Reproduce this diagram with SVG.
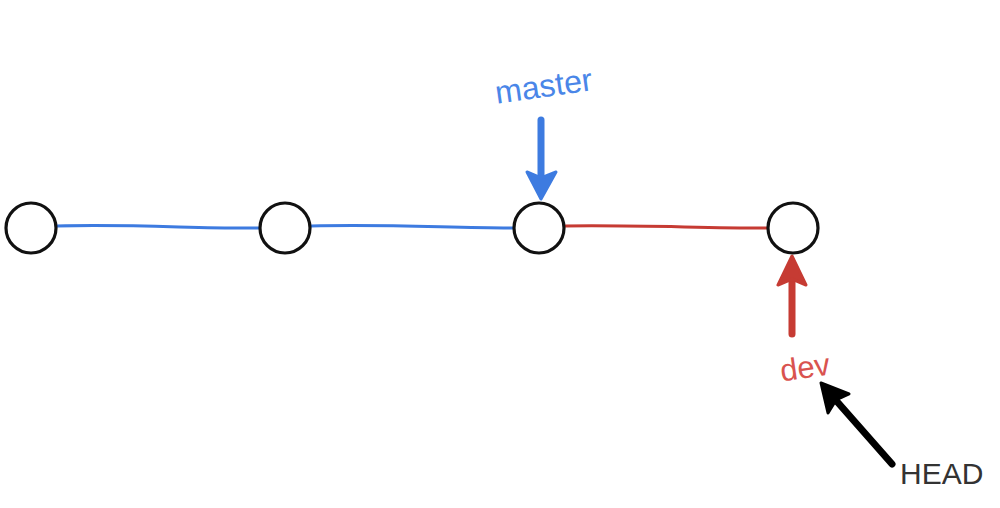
<svg xmlns="http://www.w3.org/2000/svg" width="1000" height="508" viewBox="0 0 1000 508">
<style>
.node{fill:#fff;stroke:#111;stroke-width:3.2}
.lb{stroke:#3d7be0;stroke-width:3;fill:none;stroke-linecap:round}
.lr{stroke:#c63b33;stroke-width:3;fill:none;stroke-linecap:round}
.t{font-family:"Liberation Sans",Arial,sans-serif}
</style>
<rect width="1000" height="508" fill="#fff"/>
<g id="connectors">
<path class="lb" d="M57,226 C140,224 200,229 259,228"/>
<path class="lb" d="M311,226 C390,224 450,228 513,228"/>
<path class="lr" d="M565,226 C640,225 700,228 767,228"/>
<path d="M541,120 L541,180" stroke="#3d7be0" stroke-width="7" stroke-linecap="round"/>
<path d="M541,199 L527,172 L541,178 L556,172 Z" fill="#3d7be0" stroke="#3d7be0" stroke-width="3" stroke-linejoin="round"/>
<path d="M792,334 L792,275" stroke="#c63b33" stroke-width="7" stroke-linecap="round"/>
<path d="M792,256 L778,285 L792,279 L806,285 Z" fill="#c63b33" stroke="#c63b33" stroke-width="3" stroke-linejoin="round"/>
<path d="M892,464 L833,397" stroke="#000" stroke-width="7" stroke-linecap="round"/>
<path d="M821,383 L849,394 L836,400 L828,413 Z" fill="#000" stroke="#000" stroke-width="3" stroke-linejoin="round"/>
</g>
<g id="c1"><circle class="node" cx="31" cy="228" r="25"/></g>
<g id="c2"><circle class="node" cx="285" cy="228" r="25"/></g>
<g id="c3"><circle class="node" cx="539" cy="228" r="25"/></g>
<g id="c4"><circle class="node" cx="793" cy="228" r="25"/></g>
<g id="master"><text class="t" x="544" y="97" font-size="32" fill="#4a86e8" text-anchor="middle" transform="rotate(-8 544 88)">master</text></g>
<g id="dev"><text class="t" x="805" y="378" font-size="31" fill="#d9534f" text-anchor="middle" transform="rotate(-8 805 368)">dev</text></g>
<g id="head"><text class="t" x="900" y="484" font-size="30" fill="#333">HEAD</text></g>
</svg>
